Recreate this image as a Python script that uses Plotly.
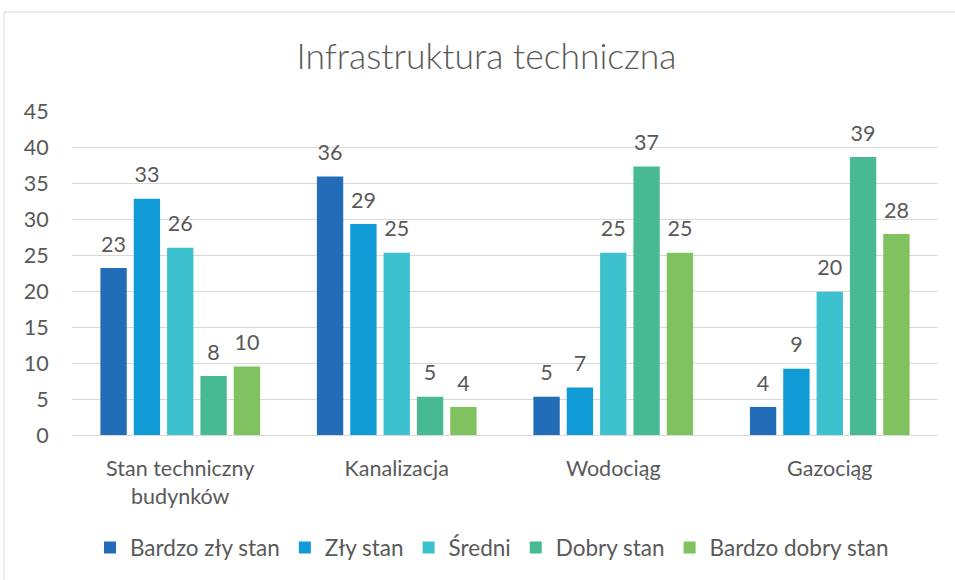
import plotly.graph_objects as go

categories = ["Stan techniczny<br>budynków", "Kanalizacja", "Wodociąg", "Gazociąg"]
series_names = ["Bardzo zły stan", "Zły stan", "Średni", "Dobry stan", "Bardzo dobry stan"]
bardzo_zly = [23.2, 35.9, 5.3, 3.9]
zly = [32.8, 29.3, 6.6, 9.2]
sredni = [26.0, 25.3, 25.3, 19.9]
dobry = [8.2, 5.3, 37.3, 38.6]
bardzo_dobry = [9.5, 3.9, 25.3, 27.9]
colors = ["#236CB7", "#109BD6", "#3DC1CE", "#48BA93", "#7FC25F"]
y_ticks = [0, 5, 10, 15, 20, 25, 30, 35, 40, 45]

FONT = "Lato, Roboto, sans-serif"
GRAY = "#595959"
FS = 21.5

fig = go.Figure()
all_series = [bardzo_zly, zly, sredni, dobry, bardzo_dobry]
for i, (name, vals, col) in enumerate(zip(series_names, all_series, colors)):
    fig.add_trace(go.Bar(
        name=name, x=categories, y=vals, offsetgroup=str(i),
        marker=dict(color=col, line=dict(width=0)),
        hoverinfo="x+y+name",
    ))
# data labels (transparent markers give the gap above the bars)
for i, (name, vals) in enumerate(zip(series_names, all_series)):
    fig.add_trace(go.Scatter(
        x=categories, y=vals, mode="markers+text", offsetgroup=str(i),
        marker=dict(size=16, opacity=0, color="white"),
        text=[f"{v:.0f}" for v in vals], textposition="top center",
        textfont=dict(size=FS, color=GRAY, family=FONT),
        showlegend=False, hoverinfo="skip", cliponaxis=False,
    ))

fig.update_layout(
    width=955, height=580,
    margin=dict(l=72, r=17, t=111, b=145, autoexpand=False),
    paper_bgcolor="white", plot_bgcolor="white",
    barmode="group", bargap=0.23, bargroupgap=0.21,
    scattermode="group", scattergap=0.23,
    title=dict(text="Infrastruktura techniczna", x=486.5 / 955, xanchor="center", y=0.903, yanchor="middle",
               font=dict(size=35.5, color=GRAY, family=FONT, weight=300)),
    font=dict(family=FONT, color=GRAY),
    legend=dict(orientation="h", x=(492 - 72) / 866, xanchor="center", y=-0.348, yanchor="middle",
                font=dict(size=22.5, color=GRAY, family=FONT), itemwidth=30),
    showlegend=True,
)
fig.update_yaxes(range=[0, 45], tickvals=y_ticks, showgrid=True, gridcolor="#D9D9D9", gridwidth=1,
                 zeroline=False, ticks="outside", ticklen=18, tickcolor="rgba(0,0,0,0)",
                 tickfont=dict(size=FS, color=GRAY, family=FONT))
fig.update_xaxes(showline=True, linecolor="#D9D9D9", linewidth=1, ticks="outside", ticklen=14,
                 tickcolor="rgba(0,0,0,0)", tickfont=dict(size=FS, color=GRAY, family=FONT))

# chart area border
fig.add_shape(type="rect", xref="paper", yref="paper",
              x0=-68 / 866, x1=(955 + 20 - 72) / 866, y0=-(145 + 20) / 324, y1=1 + (111 - 12) / 324,
              line=dict(color="#D9D9D9", width=1), fillcolor="rgba(0,0,0,0)", layer="below")

fig.write_html("out.html", config={"displayModeBar": False},
               post_script="document.body.style.margin='0px';")
